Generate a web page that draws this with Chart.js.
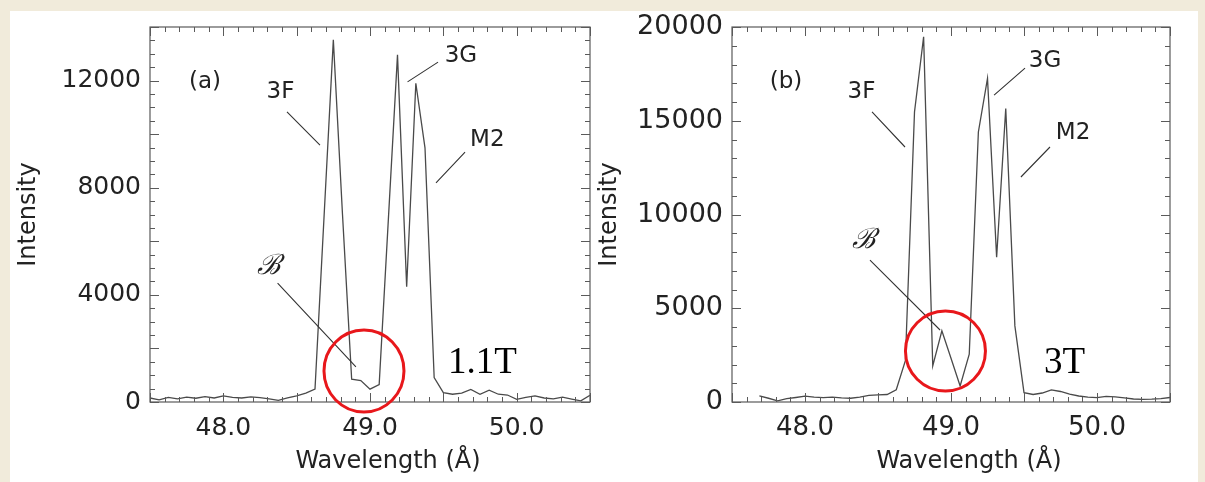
<!DOCTYPE html>
<html>
<head>
<meta charset="utf-8">
<script src="https://cdn.jsdelivr.net/npm/chart.js@4"></script>
<style>
  html, body { margin: 0; padding: 0; background: #f1ebdb; }
  body { width: 1205px; height: 482px; position: relative; overflow: hidden; }
  #sheet { position: absolute; left: 10px; top: 11px; width: 1188px; height: 471px; background: #fff; }
  canvas { position: absolute; top: 0; }
  #panelA { left: 0; }
  #panelB { left: 590px; }
</style>
</head>
<body>
<div id="sheet"></div>
<canvas id="panelA" width="600" height="482"></canvas>
<canvas id="panelB" width="615" height="482"></canvas>
<script>
// sampled wavelengths (Å), shared by both spectra
const wavelength = [
  47.5, 47.5625, 47.625, 47.6875, 47.75, 47.8125, 47.875, 47.9375,
  48.0, 48.0625, 48.125, 48.1875, 48.25, 48.3125, 48.375, 48.4375,
  48.5, 48.5625, 48.625, 48.6875, 48.75, 48.8125, 48.875, 48.9375,
  49.0, 49.0625, 49.125, 49.1875, 49.25, 49.3125, 49.375, 49.4375,
  49.5, 49.5625, 49.625, 49.6875, 49.75, 49.8125, 49.875, 49.9375,
  50.0, 50.0625, 50.125, 50.1875, 50.25, 50.3125, 50.375, 50.4375, 50.5
];

// (a) 1.1T spectrum
const intensityA = [
  150, 80, 170, 120, 180, 140, 200, 150,
  230, 170, 150, 190, 160, 120, 60, 150,
  230, 330, 480, 7000, 13520, 7000, 850, 800,
  480, 650, 6800, 12960, 4300, 11900, 9490, 910,
  350, 290, 330, 470, 290, 440, 290, 260,
  100, 170, 225, 150, 120, 180, 110, 40, 250
];

// (b) 3T spectrum, starts a little above 47.6 Å
const intensityB = [
  null, null, null, 330, 200, 60, 180, 240,
  310, 260, 230, 260, 220, 200, 260, 350,
  380, 400, 650, 2200, 15470, 19480, 1925, 3800,
  2330, 856, 2550, 14400, 17260, 7720, 15650, 4060,
  500, 400, 480, 650, 560, 420, 320, 260,
  230, 300, 270, 220, 160, 140, 150, 180, 240
];

const xTicks = [48, 49, 50];
const yTicksA = [0, 4000, 8000, 12000];
const yTicksB = [0, 5000, 10000, 15000, 20000];

const sans = "'DejaVu Sans', Verdana, sans-serif";
const serif = "'Liberation Serif', 'Times New Roman', serif";
const ink = '#222';

// frame, inward ticks on all four sides, line labels and the marked region
const panelDecor = {
  id: 'panelDecor',
  afterDraw(chart, args, o) {
    const { ctx, chartArea: a } = chart;
    const xs = chart.scales.x, ys = chart.scales.y;
    const px = v => xs.getPixelForValue(v), py = v => ys.getPixelForValue(v);
    ctx.save();
    ctx.strokeStyle = '#5a5a5a';
    ctx.lineWidth = 1.2;
    ctx.strokeRect(a.left, a.top, a.right - a.left, a.bottom - a.top);

    ctx.lineWidth = 1;
    ctx.beginPath();
    for (let k = 0; k <= 30; k++) {
      const v = 47.5 + k * 0.1;
      const len = Math.abs(v * 2 - Math.round(v * 2)) < 1e-6 ? 9 : 5;
      const x = Math.round(px(v)) + 0.5;
      ctx.moveTo(x, a.bottom); ctx.lineTo(x, a.bottom - len);
      ctx.moveTo(x, a.top); ctx.lineTo(x, a.top + len);
    }
    for (let v = 0; v <= o.yMax; v += o.yMinor) {
      const len = v % o.yMajor === 0 ? 9 : 5;
      const y = Math.round(py(v)) + 0.5;
      ctx.moveTo(a.left, y); ctx.lineTo(a.left + len, y);
      ctx.moveTo(a.right, y); ctx.lineTo(a.right - len, y);
    }
    ctx.stroke();

    // leader lines from labels to the lines
    ctx.strokeStyle = '#333';
    ctx.lineWidth = 1.1;
    ctx.beginPath();
    o.leaders.forEach(([x1, y1, x2, y2]) => {
      ctx.moveTo(px(x1), py(y1)); ctx.lineTo(px(x2), py(y2));
    });
    ctx.stroke();

    ctx.fillStyle = ink;
    ctx.textAlign = 'center';
    ctx.textBaseline = 'middle';
    o.notes.forEach(n => {
      ctx.font = n.script ? "italic 28px 'DejaVu Serif', serif" : '23px ' + sans;
      ctx.fillText(n.text, px(n.x), py(n.y));
    });

    ctx.textAlign = 'left';
    ctx.textBaseline = 'alphabetic';
    ctx.font = '37px ' + serif;
    ctx.fillStyle = '#000';
    ctx.fillText(o.field.text, px(o.field.x), py(o.field.y));

    ctx.strokeStyle = '#e8171b';
    ctx.lineWidth = 3;
    ctx.beginPath();
    ctx.ellipse(px(o.ring.x), py(o.ring.y), o.ring.rx, o.ring.ry, 0, 0, Math.PI * 2);
    ctx.stroke();
    ctx.restore();
  }
};

function spectrumChart(canvas, values, yTicks, cfg) {
  const points = [];
  wavelength.forEach((w, i) => {
    if (values[i] !== null) points.push({ x: w, y: values[i] });
  });
  return new Chart(canvas, {
    type: 'line',
    data: {
      datasets: [{
        data: points,
        borderColor: '#4a4a4a',
        borderWidth: 1.3,
        pointRadius: 0,
        tension: 0,
        fill: false
      }]
    },
    options: {
      responsive: false,
      animation: false,
      events: [],
      layout: { padding: { top: 27, right: cfg.padRight, left: 0, bottom: 0 } },
      plugins: { legend: { display: false }, tooltip: { enabled: false }, panelDecor: cfg },
      scales: {
        x: {
          type: 'linear', min: 47.5, max: 50.5,
          grid: { display: false, drawTicks: false },
          border: { display: false },
          afterBuildTicks: s => { s.ticks = xTicks.map(v => ({ value: v })); },
          afterFit: s => { s.height = 80; },
          ticks: { padding: 11, color: ink, maxRotation: 0, font: { family: sans, size: cfg.xTickSize }, callback: v => v.toFixed(1) },
          // title sits a little right of the axis centre
          title: { display: true, text: '\u2002\u2002\u2002Wavelength (Å)', color: ink, font: { family: sans, size: 24 }, padding: { top: 0, bottom: 6 } }
        },
        y: {
          type: 'linear', min: 0, max: cfg.yMax,
          grid: { display: false, drawTicks: false },
          border: { display: false },
          afterBuildTicks: s => { s.ticks = yTicks.map(v => ({ value: v })); },
          afterFit: s => { s.width = cfg.axisWidth; },
          ticks: { padding: 9, color: ink, font: { family: sans, size: cfg.yTickSize }, callback: v => String(v) },
          title: { display: true, text: 'Intensity', color: ink, font: { family: sans, size: 24 }, padding: { top: cfg.titlePad, bottom: 0 } }
        }
      }
    },
    plugins: [panelDecor]
  });
}

spectrumChart(document.getElementById('panelA'), intensityA, yTicksA, {
  padRight: 10, axisWidth: 150, titlePad: 14, xTickSize: 25, yTickSize: 25,
  yMax: 14000, yMinor: 500, yMajor: 2000,
  notes: [
    { text: '(a)', x: 47.875, y: 11950 },
    { text: '3F', x: 48.39, y: 11570 },
    { text: '3G', x: 49.62, y: 12920 },
    { text: 'M2', x: 49.8, y: 9780 },
    { text: '\u212C', x: 48.305, y: 5040, script: true }
  ],
  leaders: [
    [48.434, 10830, 48.659, 9590],
    [49.464, 12690, 49.256, 11950],
    [49.648, 9330, 49.45, 8180],
    [48.37, 4440, 48.904, 1310]
  ],
  ring: { x: 48.959, y: 1157, rx: 40, ry: 41 },
  field: { text: '1.1T', x: 49.532, y: 1083 }
});

spectrumChart(document.getElementById('panelB'), intensityB, yTicksB, {
  padRight: 35, axisWidth: 142, titlePad: 5, xTickSize: 26, yTickSize: 27,
  yMax: 20000, yMinor: 1000, yMajor: 5000,
  notes: [
    { text: '(b)', x: 47.87, y: 17040 },
    { text: '3F', x: 48.387, y: 16510 },
    { text: '3G', x: 49.644, y: 18190 },
    { text: 'M2', x: 49.836, y: 14350 },
    { text: '\u212C', x: 48.4, y: 8590, script: true }
  ],
  leaders: [
    [48.459, 15470, 48.685, 13600],
    [49.507, 17810, 49.295, 16370],
    [49.678, 13600, 49.479, 12000],
    [48.445, 7570, 48.925, 3840]
  ],
  ring: { x: 48.962, y: 2720, rx: 40, ry: 40 },
  field: { text: '3T', x: 49.637, y: 1547 }
});
</script>
</body>
</html>
